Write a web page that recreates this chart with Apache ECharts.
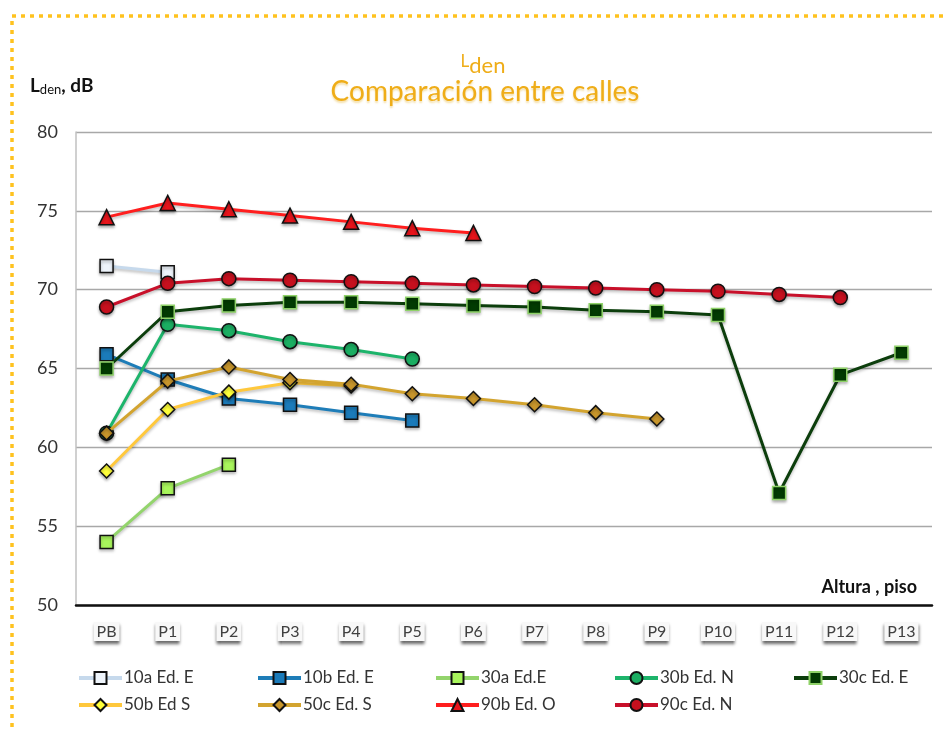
<!DOCTYPE html>
<html>
<head>
<meta charset="utf-8">
<script src="https://cdn.jsdelivr.net/npm/echarts@6/dist/echarts.min.js"></script>
<style>
html,body{margin:0;padding:0;background:#fff;}
#c{width:947px;height:729px;}
</style>
</head>
<body>
<div id="c"></div>
<script>
var categories = ['PB','P1','P2','P3','P4','P5','P6','P7','P8','P9','P10','P11','P12','P13'];
var yTicks = [50, 55, 60, 65, 70, 75, 80];

var names = ['10a Ed. E','10b Ed. E','30a Ed.E','30b Ed. N','30c Ed. E','50b Ed S','50c Ed. S','90b Ed. O','90c Ed. N'];

var s10a = [71.5, 71.1];
var s10b = [65.9, 64.3, 63.1, 62.7, 62.2, 61.7];
var s30a = [54.0, 57.4, 58.9];
var s30b = [60.9, 67.8, 67.4, 66.7, 66.2, 65.6];
var s30c = [65.0, 68.6, 69.0, 69.2, 69.2, 69.1, 69.0, 68.9, 68.7, 68.6, 68.4, 57.1, 64.6, 66.0];
var s50b = [58.5, 62.4, 63.5, 64.1, 63.9];
var s50c = [60.9, 64.2, 65.1, 64.3, 64.0, 63.4, 63.1, 62.7, 62.2, 61.8];
var s90b = [74.6, 75.5, 75.1, 74.7, 74.3, 73.9, 73.6];
var s90c = [68.9, 70.4, 70.7, 70.6, 70.5, 70.4, 70.3, 70.2, 70.1, 70.0, 69.9, 69.7, 69.5];

var values = [s10a, s10b, s30a, s30b, s30c, s50b, s50c, s90b, s90c];

var styles = [
  {line:'#C6D9EC', fill:'#EEF4FB', border:'#111', sym:'rect', size:13},
  {line:'#1E7DB8', fill:'#1B7BBA', border:'#111', sym:'rect', size:13},
  {line:'#93D46C', fill:'#A8F55C', border:'#111', sym:'rect', size:13},
  {line:'#1DB46B', fill:'#1BAE62', border:'#111', sym:'circle', size:14},
  {line:'#0C3E0C', fill:'#023A02', border:'#8FD268', sym:'rect', size:13},
  {line:'#FFC83C', fill:'#FFFF3A', border:'#111', sym:'diamond', size:14},
  {line:'#D3A42F', fill:'#C8962C', border:'#111', sym:'diamond', size:14},
  {line:'#FF1E1E', fill:'#E8141B', border:'#111', sym:'triangle', size:15},
  {line:'#C8102A', fill:'#C6101E', border:'#111', sym:'circle', size:14}
];

var FONT = 'Lato, "Liberation Sans", sans-serif';
var TFONT = 'Lato, "DejaVu Sans", sans-serif';

var series = names.map(function(n, i){
  var st = styles[i];
  var d = categories.map(function(c, k){ return values[i][k] === undefined ? null : values[i][k]; });
  return {
    name: n,
    type: 'line',
    data: d,
    symbol: st.sym,
    symbolSize: st.size,
    connectNulls: false,
    z: 2 + i,
    lineStyle: {color: st.line, width: 3, shadowColor:'rgba(0,0,0,0.25)', shadowBlur:3, shadowOffsetY:2},
    itemStyle: {color: st.fill, borderColor: st.border, borderWidth: 1.5, shadowColor:'rgba(0,0,0,0.3)', shadowBlur:3, shadowOffsetY:2},
    emphasis: {disabled: true},
    animation: false
  };
});

var colX = [77, 256, 434, 613, 792];
var legends = [];
for (var c = 0; c < 5; c++) {
  var items = [names[c]];
  if (names[c + 5]) items.push(names[c + 5]);
  legends.push({
    orient: 'vertical',
    left: colX[c],
    top: 669,
    itemWidth: 43,
    itemHeight: 15,
    itemGap: 9,
    padding: 0,
    data: items,
    selectedMode: false,
    lineStyle: {width: 4, shadowBlur: 0, shadowOffsetY: 0},
    itemStyle: {shadowBlur: 0, shadowOffsetY: 0},
    textStyle: {fontFamily: FONT, fontSize: 17, color: '#333', lineHeight: 18, padding: [0,0,0,-3]}
  });
}

var chart = echarts.init(document.getElementById('c'), null, {renderer: 'canvas'});
chart.setOption({
  animation: false,
  backgroundColor: '#fff',
  grid: {left: 76, right: 15, top: 132, bottom: 124},
  legend: legends,
  xAxis: {
    type: 'category',
    data: categories,
    boundaryGap: true,
    axisLine: {show: true, lineStyle: {color: '#111', width: 2.5}},
    axisTick: {show: false},
    splitLine: {show: false},
    axisLabel: {
      fontFamily: FONT, fontSize: 16, color: '#404040', margin: 17,
      backgroundColor: '#F8F8F8', padding: [2,3,1,3],
      shadowColor: 'rgba(0,0,0,0.6)', shadowBlur: 3, shadowOffsetY: 3
    }
  },
  yAxis: {
    type: 'value',
    min: yTicks[0], max: yTicks[yTicks.length - 1], interval: 5,
    axisLine: {show: true, lineStyle: {color: '#C0C0C0', width: 1.5}},
    axisTick: {show: false},
    splitLine: {show: true, lineStyle: {color: '#A8A8A8', width: 1.3}},
    axisLabel: {fontFamily: FONT, fontSize: 18, color: '#333', margin: 18}
  },
  series: series,
  graphic: [
    {
      type: 'rect', silent: true, z: 100,
      shape: {x: 12, y: 16, width: 1000, height: 800},
      style: {fill: 'none', stroke: '#FFC21E', lineWidth: 3.5, lineDash: [4, 5]}
    },
    {
      type: 'text', silent: true, z: 100,
      x: 483, y: 66,
      style: {
        text: '{L|L}{d|den}',
        align: 'center', verticalAlign: 'middle',
        rich: {
          L: {fontFamily: TFONT, fontSize: 17, fill: '#EFAD18', padding: [0,0,8,0]},
          d: {fontFamily: TFONT, fontSize: 22, fill: '#EFAD18'}
        }
      }
    },
    {
      type: 'text', silent: true, z: 100,
      x: 485, y: 92,
      style: {
        text: 'Comparación entre calles',
        align: 'center', verticalAlign: 'middle',
        fontFamily: TFONT, fontSize: 28, fill: '#EFAD18',
        textShadowColor: 'rgba(220,160,0,0.35)', textShadowBlur: 2, textShadowOffsetY: 2
      }
    },
    {
      type: 'text', silent: true, z: 100,
      x: 30, y: 86,
      style: {
        text: '{b|L}{s|den}{b|, dB}',
        align: 'left', verticalAlign: 'middle',
        rich: {
          b: {fontFamily: FONT, fontSize: 19, fontWeight: 'bold', fill: '#111'},
          s: {fontFamily: FONT, fontSize: 13, fill: '#111', padding: [8,0,0,0]}
        }
      }
    },
    {
      type: 'text', silent: true, z: 100,
      x: 917, y: 587,
      style: {
        text: 'Altura , piso',
        align: 'right', verticalAlign: 'middle',
        fontFamily: FONT, fontSize: 18, fontWeight: 'bold', fill: '#111'
      }
    }
  ]
});
</script>
</body>
</html>
